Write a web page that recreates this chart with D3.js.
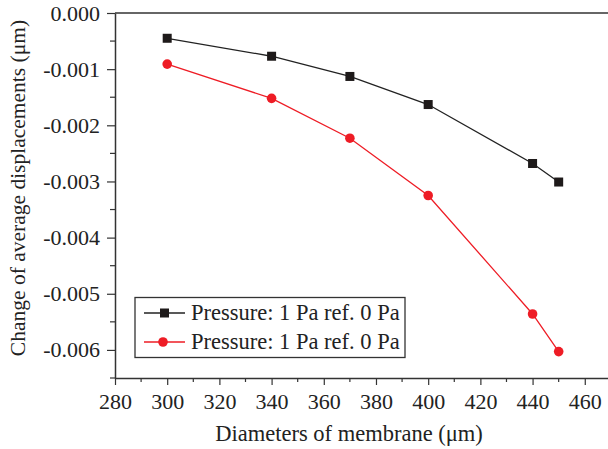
<!DOCTYPE html>
<html>
<head>
<meta charset="utf-8">
<script src="https://cdn.jsdelivr.net/npm/d3@7"></script>
<style>
  body { margin: 0; background: #fff; }
  svg { font-family: "Liberation Serif", "Times New Roman", serif; }
</style>
</head>
<body>
<div id="chart"></div>
<script>
// data
var diameters = [300, 340, 370, 400, 440, 450];
var blackVals = [-0.00045, -0.00077, -0.00113, -0.00163, -0.00268, -0.00301];
var redVals = [-0.00091, -0.00152, -0.00223, -0.00325, -0.00536, -0.00603];
var seriesNames = ['Pressure: 1 Pa ref. 0 Pa', 'Pressure: 1 Pa ref. 0 Pa'];
var xTicks = [280, 300, 320, 340, 360, 380, 400, 420, 440, 460];
var yTicks = [0, -0.001, -0.002, -0.003, -0.004, -0.005, -0.006];

var W = 608, H = 449;
var mLeft = 115, mRight = 608, mTop = 13, mBottom = 378;
var axisColor = '#333';

var svg = d3.select('#chart').append('svg').attr('width', W).attr('height', H);

var x = d3.scaleLinear().domain([280, 468.9]).range([mLeft, mRight]);
var y = d3.scaleLinear().domain([-0.0065, 0]).range([mBottom, mTop]);

// minor ticks (halfway between majors)
var xMinor = d3.range(290, 470, 20);
var yMinor = d3.range(-0.0005, -0.0066, -0.001);

// x axis
var xg = svg.append('g').attr('transform', 'translate(0,' + mBottom + ')');
xg.call(d3.axisBottom(x).tickValues(xTicks).tickSize(7).tickSizeOuter(0).tickFormat(d3.format('d')));
xg.append('g').selectAll('line').data(xMinor).enter().append('line')
  .attr('x1', function(d) { return x(d); }).attr('x2', function(d) { return x(d); })
  .attr('y1', 0).attr('y2', 4).attr('stroke', axisColor).attr('stroke-width', 1.2);

// y axis
var yg = svg.append('g').attr('transform', 'translate(' + mLeft + ',0)');
yg.call(d3.axisLeft(y).tickValues(yTicks).tickSize(8).tickSizeOuter(0)
  .tickFormat(function(d) { return d === 0 ? '0.000' : d3.format('.3f')(d).replace('−', '-'); }));
yg.append('g').selectAll('line').data(yMinor).enter().append('line')
  .attr('y1', function(d) { return y(d); }).attr('y2', function(d) { return y(d); })
  .attr('x1', 0).attr('x2', -5).attr('stroke', axisColor).attr('stroke-width', 1.2);

svg.selectAll('.domain').attr('stroke', axisColor).attr('stroke-width', 1.5);
svg.selectAll('.tick line').attr('stroke', axisColor).attr('stroke-width', 1.2);
svg.selectAll('.tick text').attr('font-size', 22).attr('fill', '#222')
  .attr('font-family', '"Liberation Serif", "Times New Roman", serif');
xg.selectAll('.tick text').attr('dy', '0.95em');
yg.selectAll('.tick text').attr('x', -15);

// top frame line
svg.append('line').attr('x1', mLeft).attr('x2', mRight).attr('y1', mTop).attr('y2', mTop)
  .attr('stroke', axisColor).attr('stroke-width', 1.5);

// axis titles
svg.append('text').attr('x', 349).attr('y', 441).attr('text-anchor', 'middle')
  .attr('font-size', 22.5).attr('fill', '#222').text('Diameters of membrane (μm)');
svg.append('text').attr('transform', 'translate(25,' + (9 + 367) / 2 + ') rotate(-90)')
  .attr('text-anchor', 'middle').attr('font-size', 21.5).attr('fill', '#222')
  .text('Change of average displacements (μm)');

var line = d3.line().x(function(d) { return x(d[0]); }).y(function(d) { return y(d[1]); });
var blackData = diameters.map(function(d, i) { return [d, blackVals[i]]; });
var redData = diameters.map(function(d, i) { return [d, redVals[i]]; });

svg.append('path').datum(blackData).attr('d', line).attr('fill', 'none')
  .attr('stroke', '#222').attr('stroke-width', 1.3);
svg.append('path').datum(redData).attr('d', line).attr('fill', 'none')
  .attr('stroke', '#ee1c25').attr('stroke-width', 1.3);

var sq = 9;
svg.selectAll('.sq').data(blackData).enter().append('rect')
  .attr('x', function(d) { return x(d[0]) - sq / 2; })
  .attr('y', function(d) { return y(d[1]) - sq / 2; })
  .attr('width', sq).attr('height', sq).attr('fill', '#1e1a1a');
svg.selectAll('.ci').data(redData).enter().append('circle')
  .attr('cx', function(d) { return x(d[0]); })
  .attr('cy', function(d) { return y(d[1]); })
  .attr('r', 4.8).attr('fill', '#ee1c25');

// legend
var lg = svg.append('g');
lg.append('rect').attr('x', 135).attr('y', 297.5).attr('width', 270).attr('height', 60)
  .attr('fill', '#fff').attr('stroke', '#333').attr('stroke-width', 1.3);
var rowsY = [313, 342];
var colors = ['#222', '#ee1c25'];
rowsY.forEach(function(ry, i) {
  lg.append('line').attr('x1', 144).attr('x2', 185).attr('y1', ry).attr('y2', ry)
    .attr('stroke', colors[i]).attr('stroke-width', 1.3);
  if (i === 0) {
    lg.append('rect').attr('x', 164.5 - sq / 2).attr('y', ry - sq / 2).attr('width', sq).attr('height', sq)
      .attr('fill', '#1e1a1a');
  } else {
    lg.append('circle').attr('cx', 163).attr('cy', ry).attr('r', 4.8).attr('fill', '#ee1c25');
  }
  lg.append('text').attr('x', 191).attr('y', ry + 7).attr('font-size', 22.5).attr('fill', '#222')
    .text(seriesNames[i]);
});
</script>
</body>
</html>
